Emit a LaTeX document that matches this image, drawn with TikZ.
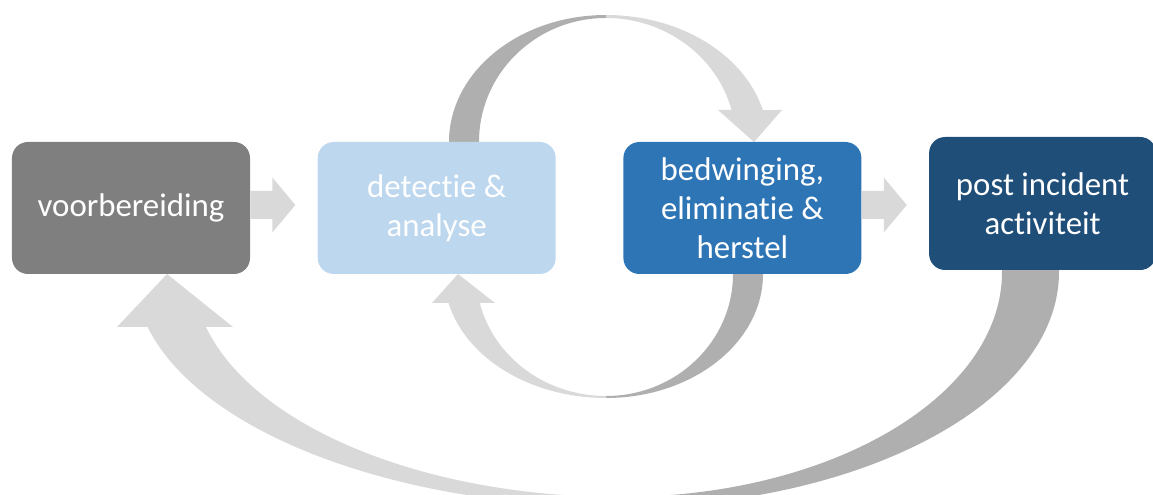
\documentclass[tikz,border=0pt]{standalone}
\usepackage{fontspec}
\setmainfont{Carlito}[Ligatures=NoCommon]
\usetikzlibrary{positioning}
\definecolor{prepgray}{HTML}{7F7F7F}
\definecolor{detblue}{HTML}{BDD7EE}
\definecolor{bedblue}{HTML}{2E75B6}
\definecolor{postblue}{HTML}{1F4E79}
\definecolor{arrowlight}{HTML}{D9D9D9}
\definecolor{arrowdark}{HTML}{AFAFAF}

\begin{document}
\begin{tikzpicture}[stage/.style={shape=rectangle, rounded corners=0.32cm, align=center, text=white,
		minimum width=4.76cm, minimum height=2.64cm, inner sep=0pt,
		font=\fontsize{18.7}{22.2}\selectfont},
	lightarrow/.style={fill=arrowlight}, darkarrow/.style={fill=arrowdark}]
	\useasboundingbox (0,0) rectangle (23.06,9.90);
	\coordinate (upper) at (12.12,7.06);
	\coordinate (lower) at (12.12,4.42);
	\coordinate (outer) at (12.40,4.46);
	% detectie -> bedwinging, over the top
	\fill[darkarrow] (upper) ++(-3.14,-0.1) -- ++(0,0.1) arc[start angle=180, end angle=90, x radius=3.14, y radius=2.54]
		-- ++(0,-0.06) arc[start angle=90, end angle=180, x radius=2.54, y radius=2.48] -- ++(0,-0.1) -- cycle;
	\fill[lightarrow] (upper) ++(0,2.54) arc[start angle=90, end angle=14.59, x radius=3.24, y radius=2.54]
		-- (15.64,7.70) -- (15.08,7.06) -- (14.36,7.70) -- (14.632,7.70)
		arc[start angle=14.96, end angle=90, x radius=2.60, y radius=2.48] -- cycle;
	% bedwinging -> detectie, underneath
	\fill[darkarrow] (lower) ++(3.14,0.1) -- ++(0,-0.1) arc[start angle=0, end angle=-90, x radius=3.14, y radius=2.48]
		-- ++(0,0.04) arc[start angle=-90, end angle=0, x radius=2.54, y radius=2.44] -- ++(0,0.1) -- cycle;
	\fill[lightarrow] (lower) ++(0,-2.48) arc[start angle=270, end angle=193.52, x radius=3.24, y radius=2.48]
		-- (8.64,3.84) -- (9.16,4.42) -- (9.90,3.84) -- (9.595,3.84)
		arc[start angle=193.75, end angle=270, x radius=2.60, y radius=2.44] -- cycle;
	% post incident -> voorbereiding
	\fill[darkarrow] (outer) ++(8.78,0.2) -- ++(0,-0.2) arc[start angle=0, end angle=-90, x radius=8.78, y radius=4.70]
		-- ++(0,0.20) arc[start angle=-90, end angle=0, x radius=7.64, y radius=4.50] -- ++(0,0.2) -- cycle;
	\fill[lightarrow] (outer) ++(0,-4.70) arc[start angle=270, end angle=193.53, x radius=9.72, y radius=4.70]
		-- (2.34,3.36) -- (3.34,4.42) -- (4.66,3.36) -- (4.119,3.36)
		arc[start angle=194.15, end angle=270, x radius=8.54, y radius=4.50] -- cycle;

	\node[stage, fill=prepgray] (prep) at (2.62,5.74) {voorbereiding};
	\node[stage, fill=detblue, right=1.34cm of prep] (det) {detectie \&\\ analyse};
	\node[stage, fill=bedblue, right=1.34cm of det] (bed) {bedwinging,\\ eliminatie \&\\ herstel};
	\node[stage, fill=postblue, right=1.34cm of bed, yshift=0.09cm,
		minimum width=4.54cm, minimum height=2.66cm] (post) {post incident\\ activiteit};

	\foreach \src in {prep,bed}
		\fill[lightarrow] (\src.east) ++(0,0.34) -- ++(0.44,0) -- ++(0,0.27) -- ++(0.46,-0.55)
			-- ++(-0.46,-0.55) -- ++(0,0.27) -- ++(-0.44,0) -- cycle;
\end{tikzpicture}
\end{document}
